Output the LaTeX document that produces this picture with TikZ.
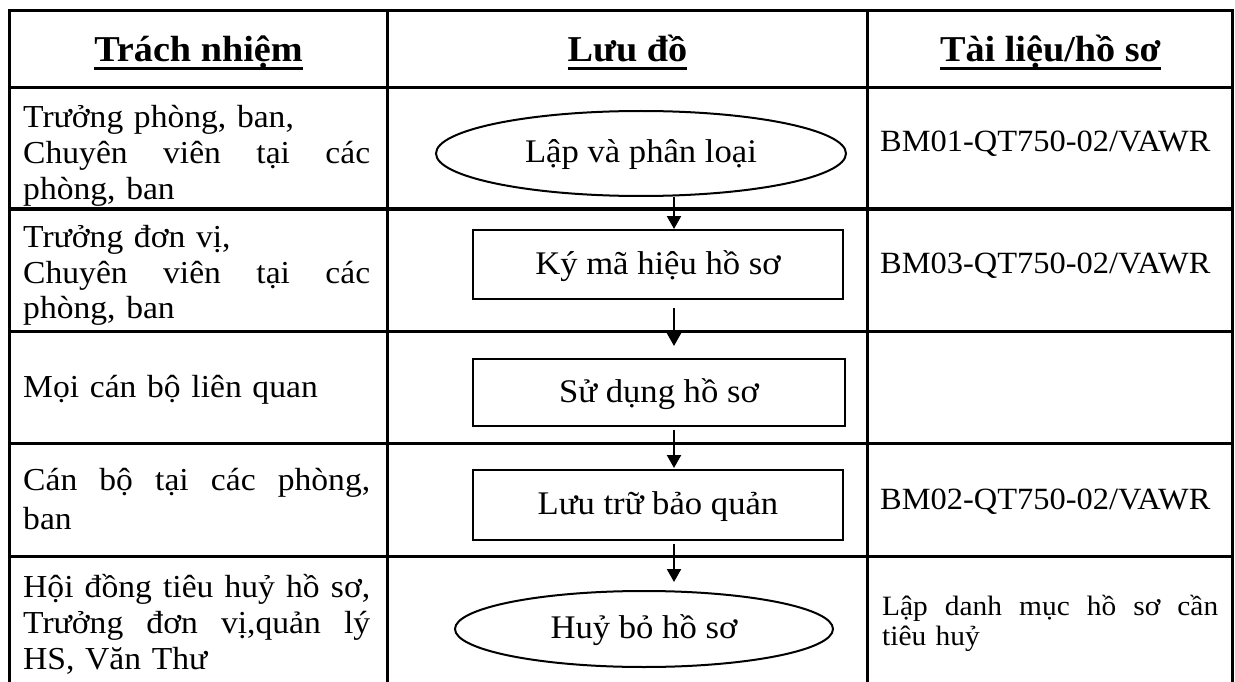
\documentclass[tikz,border=0pt]{standalone}
\usepackage{fontspec}
\setmainfont{Liberation Serif}[FakeStretch=1.05]
\usetikzlibrary{shapes.geometric,arrows.meta}
\setlength\parindent{0pt}
\newcommand\hdul[1]{\setbox0\hbox{#1}\rlap{\rule[-8pt]{\wd0}{3pt}}\box0}
\newcommand\jl[1]{\leavevmode\hbox to 347pt{#1}}
\newcommand\jd[1]{\leavevmode\hbox to 336pt{#1}}
\tikzset{
  grid/.style={line width=3pt, line cap=rect},
  hdr/.style={font=\bfseries\fontsize{36.4pt}{40pt}\selectfont, inner sep=0pt, anchor=base},
  resp/.style={font=\fontsize{32pt}{36pt}\selectfont, inner sep=0pt, anchor=base west, text width=400pt, align=left},
  doc/.style={font=\fontsize{30.9pt}{34pt}\selectfont, inner sep=0pt, anchor=base west},
  docs/.style={font=\fontsize{28pt}{30pt}\selectfont, inner sep=0pt, anchor=base west, text width=400pt, align=left},
  stepbox/.style={draw, line width=2pt, rectangle, inner sep=0pt, font=\fontsize{33pt}{36pt}\selectfont, text height=23pt, text depth=4pt},
  term/.style={draw, line width=2pt, ellipse, inner sep=0pt, font=\fontsize{33pt}{36pt}\selectfont, text height=23pt, text depth=4pt},
  arr/.style={line width=2.3pt, -{Triangle[length=13pt,width=14pt]}},
}
\begin{document}
\begin{tikzpicture}[x=1pt,y=1pt]
\useasboundingbox (0,0) rectangle (1235,-682);
% table grid
\draw[grid] (9,-682) -- (9,-11) -- (1232.5,-11) -- (1232.5,-682);
\draw[grid] (387,-11) -- (387,-682);
\draw[grid] (867,-11) -- (867,-682);
\foreach \yy in {88,209,331,443,556} \draw[grid] (9,-\yy) -- (1232.5,-\yy);
% headers
\node[hdr] (h1) at (198.5,-62) {\hdul{Trách nhiệm}};
\node[hdr] (h2) at (627.5,-62) {\hdul{Lưu đồ}};
\node[hdr] (h3) at (1050.5,-62) {\hdul{Tài liệu/hồ sơ}};
% responsibilities
\node[resp] (r1) at (23,-128) {Trưởng phòng, ban,\\ \jl{Chuyên \hfill viên \hfill tại \hfill các}\\ phòng, ban};
\node[resp] (r2) at (23,-247) {Trưởng đơn vị,\\ \jl{Chuyên \hfill viên \hfill tại \hfill các}\\ phòng, ban};
\node[resp] (r3) at (23,-397) {Mọi cán bộ liên quan};
\node[resp, font=\fontsize{32pt}{39pt}\selectfont] (r4) at (23,-490) {\jl{Cán \hfill bộ \hfill tại \hfill các \hfill phòng,}\\ ban};
\node[resp] (r5) at (23,-597) {\jl{Hội \hfill đồng \hfill tiêu \hfill huỷ \hfill hồ \hfill sơ,}\\ \jl{Trưởng \hfill đơn \hfill vị,quản \hfill lý}\\ HS, Văn Thư};
% flow
\node[term, minimum width=410pt, minimum height=85pt] (e1) at (641,-153.5) {Lập và phân loại};
\node[stepbox, minimum width=370pt, minimum height=69pt] (b2) at (658,-264.5) {Ký mã hiệu hồ sơ};
\node[stepbox, minimum width=372pt, minimum height=67pt] (b3) at (659,-392.5) {Sử dụng hồ sơ};
\node[stepbox, minimum width=370pt, minimum height=70pt] (b4) at (658,-505) {Lưu trữ bảo quản};
\node[term, minimum width=378pt, minimum height=76pt] (e2) at (644,-629) {Huỷ bỏ hồ sơ};
\coordinate (ax) at (674,0);
\draw[arr] (e1.south -| ax) -- (b2.north -| ax);
\draw[arr, shorten <=8pt, shorten >=12pt] (b2.south -| ax) -- (b3.north -| ax);
\draw[arr, shorten <=3pt, shorten >=1pt] (b3.south -| ax) -- (b4.north -| ax);
\draw[arr, shorten <=3pt, shorten >=8pt] (b4.south -| ax) -- (e2.north -| ax);
% documents
\node[doc] (d1) at (880,-152) {BM01-QT750-02/VAWR};
\node[doc] (d2) at (880,-273) {BM03-QT750-02/VAWR};
\node[doc] (d4) at (880,-509) {BM02-QT750-02/VAWR};
\node[docs] (d5) at (882,-615) {\jd{Lập \hfill danh \hfill mục \hfill hồ \hfill sơ \hfill cần}\\ tiêu huỷ};
\end{tikzpicture}
\end{document}
